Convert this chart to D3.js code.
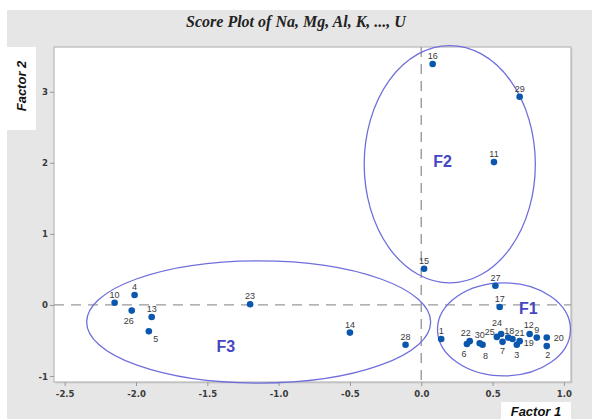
<!DOCTYPE html>
<html>
<head>
<meta charset="utf-8">
<script src="https://cdn.jsdelivr.net/npm/d3@7"></script>
<style>
  body { margin: 0; background: #fff; }
  svg { display: block; }
</style>
</head>
<body>
<div id="chart"></div>
<script>
// score values
const ids     = [1, 2, 3, 4, 5, 6, 7, 8, 9, 10, 11, 12, 13, 14, 15, 16, 17, 18, 19, 20, 21, 22, 23, 24, 25, 26, 27, 28, 29, 30];
const factor1 = [0.14, 0.88, 0.67, -2.01, -1.91, 0.32, 0.57, 0.43, 0.81, -2.15, 0.51, 0.76, -1.89, -0.50, 0.02, 0.08, 0.55, 0.61, 0.69, 0.88, 0.64, 0.34, -1.20, 0.56, 0.53, -2.03, 0.52, -0.11, 0.69, 0.41];
const factor2 = [-0.48, -0.58, -0.56, 0.14, -0.37, -0.55, -0.52, -0.56, -0.46, 0.03, 2.01, -0.41, -0.17, -0.39, 0.51, 3.39, -0.03, -0.46, -0.51, -0.46, -0.48, -0.51, 0.01, -0.41, -0.45, -0.08, 0.27, -0.56, 2.93, -0.54];

const xTicks = [-2.5, -2.0, -1.5, -1.0, -0.5, 0.0, 0.5, 1.0];
const yTicks = [-1, 0, 1, 2, 3];

// groups: name, centre and half-axes in score units
const groupNames = ["F1", "F2", "F3"];
const groupCx = [0.58, 0.20, -1.14];
const groupCy = [-0.345, 1.98, -0.24];
const groupRx = [0.466, 0.60, 1.206];
const groupRy = [0.655, 1.67, 0.86];
const groupLabelX = [0.75, 0.15, -1.37];
const groupLabelY = [-0.07, 2.0, -0.6];

const W = 592, H = 419;
const plot = { left: 54, right: 571, top: 47, bottom: 382 };

const svg = d3.select("#chart").append("svg")
  .attr("width", W)
  .attr("height", H);

// grey panel
svg.append("rect")
  .attr("x", 7).attr("y", 10)
  .attr("width", W - 7).attr("height", H - 10)
  .attr("fill", "#e6e6e6");

svg.append("text")
  .attr("x", 296).attr("y", 27)
  .attr("text-anchor", "middle")
  .style("font-family", "'Liberation Serif', 'DejaVu Serif', serif")
  .style("font-weight", "bold")
  .style("font-style", "italic")
  .style("font-size", "16px")
  .attr("fill", "#222")
  .text("Score Plot of Na, Mg, Al, K, ..., U");

const x = d3.scaleLinear().domain([-2.575, 1.05]).range([plot.left, plot.right]);
const y = d3.scaleLinear().domain([-1.085, 3.63]).range([plot.bottom, plot.top]);

// plot area
svg.append("rect")
  .attr("x", plot.left + 1.5).attr("y", plot.top + 1.5)
  .attr("width", plot.right - plot.left).attr("height", plot.bottom - plot.top)
  .attr("fill", "#cfcfcf");
svg.append("rect")
  .attr("x", plot.left).attr("y", plot.top)
  .attr("width", plot.right - plot.left).attr("height", plot.bottom - plot.top)
  .attr("fill", "#fff")
  .attr("stroke", "#b8b8b8")
  .attr("stroke-width", 1.2);

// axes
const tickFont = g => g.selectAll("text")
  .style("font-family", "'DejaVu Sans Condensed', 'DejaVu Sans', sans-serif")
  .style("font-size", "9.5px")
  .style("font-weight", "bold")
  .attr("fill", "#3a3a3a");

const xAxis = svg.append("g")
  .attr("transform", `translate(0,${plot.bottom})`)
  .call(d3.axisBottom(x).tickValues(xTicks).tickFormat(d => d.toFixed(1)).tickSize(4).tickPadding(4));
xAxis.select(".domain").remove();
xAxis.selectAll("line").attr("stroke", "#999");
xAxis.call(tickFont);

const yAxis = svg.append("g")
  .attr("transform", `translate(${plot.left},0)`)
  .call(d3.axisLeft(y).tickValues(yTicks).tickFormat(d => String(d)).tickSize(4).tickPadding(2));
yAxis.select(".domain").remove();
yAxis.selectAll("line").attr("stroke", "#999");
yAxis.call(tickFont);

// axis title boxes
svg.append("rect").attr("x", 7).attr("y", 47).attr("width", 29).attr("height", 83).attr("fill", "#fff");
svg.append("text")
  .attr("transform", "translate(26,86) rotate(-90)")
  .attr("text-anchor", "middle")
  .style("font-family", "'Liberation Sans', Arial, sans-serif")
  .style("font-weight", "bold")
  .style("font-style", "italic")
  .style("font-size", "13px")
  .attr("fill", "#111")
  .text("Factor 2");

svg.append("rect").attr("x", 501).attr("y", 402).attr("width", 70).attr("height", 17).attr("fill", "#fff");
svg.append("text")
  .attr("x", 536).attr("y", 416)
  .attr("text-anchor", "middle")
  .style("font-family", "'Liberation Sans', Arial, sans-serif")
  .style("font-weight", "bold")
  .style("font-style", "italic")
  .style("font-size", "13px")
  .attr("fill", "#111")
  .text("Factor 1");

// reference lines
const ref = svg.append("g")
  .attr("stroke", "#9a9a9a")
  .attr("stroke-width", 1.4)
  .attr("stroke-dasharray", "10,7");
ref.append("line")
  .attr("x1", plot.left).attr("x2", plot.right)
  .attr("y1", y(0)).attr("y2", y(0));
ref.append("line")
  .attr("x1", x(0)).attr("x2", x(0))
  .attr("y1", plot.top).attr("y2", plot.bottom);

// group ellipses
const groups = groupNames.map((name, i) => ({
  name, cx: groupCx[i], cy: groupCy[i], rx: groupRx[i], ry: groupRy[i],
  lx: groupLabelX[i], ly: groupLabelY[i]
}));

svg.append("g").selectAll("ellipse")
  .data(groups)
  .join("ellipse")
  .attr("cx", d => x(d.cx))
  .attr("cy", d => y(d.cy))
  .attr("rx", d => x(d.cx + d.rx) - x(d.cx))
  .attr("ry", d => y(d.cy) - y(d.cy + d.ry))
  .attr("fill", "none")
  .attr("stroke", "#6f6fdc")
  .attr("stroke-width", 1.3);

svg.append("g").selectAll("text")
  .data(groups)
  .join("text")
  .attr("x", d => x(d.lx))
  .attr("y", d => y(d.ly))
  .attr("text-anchor", "middle")
  .attr("dominant-baseline", "middle")
  .style("font-family", "'Liberation Sans', Arial, sans-serif")
  .style("font-weight", "bold")
  .style("font-size", "16px")
  .attr("fill", "#4646c4")
  .text(d => d.name);

// points
const points = ids.map((id, i) => ({ id, f1: factor1[i], f2: factor2[i] }));

svg.append("g").selectAll("circle")
  .data(points)
  .join("circle")
  .attr("cx", d => x(d.f1))
  .attr("cy", d => y(d.f2))
  .attr("r", 3.3)
  .attr("fill", "#0b57ad");

// where each label sits relative to its point (default: above)
const labelOffset = {
  2: [1, 12], 3: [0, 13], 5: [7, 11], 6: [-3, 13], 7: [0, 12], 8: [3, 14],
  19: [9, 5], 20: [12, 3], 21: [7, -3], 26: [-3, 13], 22: [-4, -5], 25: [-7, -2],
  24: [-4, -8], 18: [1, -4], 12: [-1, -6]
};

svg.append("g").selectAll("text")
  .data(points)
  .join("text")
  .attr("x", d => x(d.f1) + (labelOffset[d.id] ? labelOffset[d.id][0] : 0))
  .attr("y", d => y(d.f2) + (labelOffset[d.id] ? labelOffset[d.id][1] : -5))
  .attr("text-anchor", "middle")
  .style("font-family", "'Liberation Sans', Arial, sans-serif")
  .style("font-size", "9px")
  .attr("fill", "#3a3a3a")
  .text(d => d.id);
</script>
</body>
</html>
